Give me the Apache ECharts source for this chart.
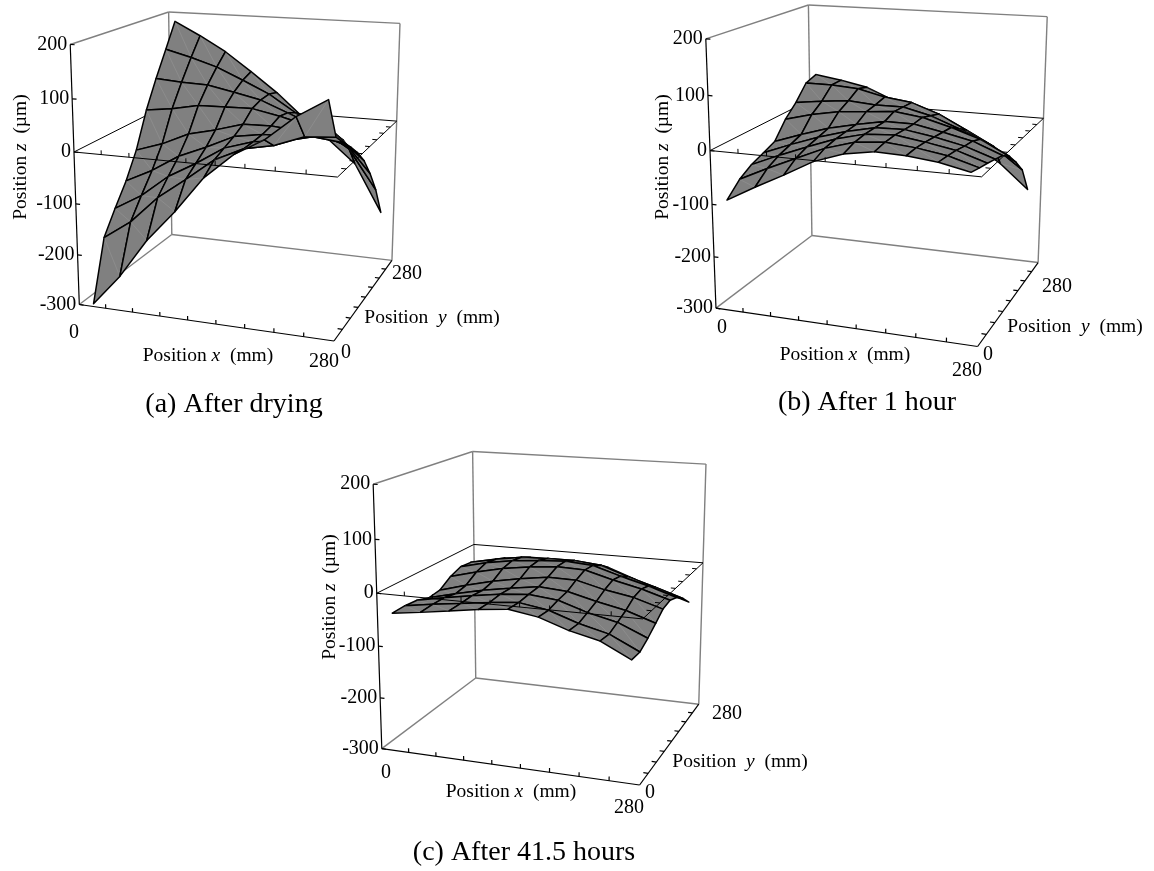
<!DOCTYPE html>
<html><head><meta charset="utf-8">
<style>html,body{margin:0;background:#fff}#c{width:1154px;height:871px}</style>
<script src="https://cdn.jsdelivr.net/npm/echarts@6/dist/echarts.min.js"></script>
</head><body><div id="c"></div>
<script>
// ---------- data ----------
const xNodes = [10,42,74,106,138,170,202,234,266];   // mm
const yNodes = [15,48,80,113,145,178,210,243,275];   // mm
const zTicks = [200,100,0,-100,-200,-300];
const zTickLabels = ['200','100','0','-100','-200','-300'];
const xTickCount = 9, yTickCount = 8, axisMax = 280;
// one row per y node, one column per x node (micrometres)
const zAfterDrying = [
 [-305,-242,-164,-102,-32,16,48,94,128],
 [-188,-150,-96,-55,-12,14,25,46,50],
 [-144,-112,-68,-37,-2,15,21,34,28],
 [-102,-75,-41,-18,8,17,18,25,7],
 [-51,-33,-8,5,21,22,17,15,-16],
 [21,28,39,40,41,30,16,3,-45],
 [77,73,71,60,48,26,3,-20,-84],
 [130,116,99,75,50,15,-17,-52,-132],
 [182,154,123,84,43,-5,-49,-96,-195]];
const zAfterOneHour = [
 [-97,-67,-39,-9,10,19,17,11,-1],
 [-72,-46,-22,2,18,23,18,9,-7],
 [-57,-34,-13,7,21,24,16,6,-12],
 [-47,-26,-7,9,21,22,13,1,-18],
 [-37,-18,-1,11,21,21,10,-2,-24],
 [-4,10,20,24,29,22,7,-11,-39],
 [19,26,31,27,27,14,-7,-30,-63],
 [49,49,45,32,25,6,-22,-51,-92],
 [57,49,38,15,0,-27,-62,-98,-146]];
const zAfter415Hours = [
 [-42,-35,-27,-19,-13,-22,-41,-54,-82],
 [-41,-33,-26,-19,-14,-23,-42,-56,-83],
 [-43,-33,-24,-16,-11,-17,-35,-48,-72],
 [-51,-38,-26,-17,-9,-13,-27,-39,-58],
 [-48,-33,-20,-10,-2,-3,-17,-27,-44],
 [-32,-18,-6,2,7,5,-10,-23,-40],
 [-23,-10,-1,4,7,3,-14,-29,-47],
 [-25,-14,-5,-3,-3,-8,-27,-44,-62],
 [-33,-22,-16,-16,-18,-24,-44,-64,-82]];
const captions = ['(a) After drying','(b) After 1 hour','(c) After 41.5 hours'];

// ---------- view of each panel: where the box corners appear ----------
const views = [
 {z:zAfterDrying, cap:[234,405], zT:[21,157], xT:[208,356], yT:[432,318],
  x0:[74,333], x1:[324,362], y0:[346,353], y1:[407,274],
  c:[[0,0,200,71,44],[0,280,200,168,12],[280,280,200,400,23],[0,0,0,74,152],[280,0,0,337,177],[280,280,0,397,122],[0,280,0,170,104],[0,0,-300,79,305],[0,280,-300,172,234],[280,280,-300,392,260],[280,0,-300,334,341]]},
 {z:zAfterOneHour, cap:[867,403], zT:[663,157], xT:[845,355], yT:[1075,327],
  x0:[722,328], x1:[967,371], y0:[988,355], y1:[1057,287],
  c:[[0,0,200,706,39],[0,280,200,808,5],[280,280,200,1048,17],[0,0,0,710,150],[280,0,0,981,177],[280,280,0,1043,118],[0,280,0,810,100],[0,0,-300,716,308],[0,280,-300,812,236],[280,280,-300,1038,262],[280,0,-300,978,347]]},
 {z:zAfter415Hours, cap:[524,853], zT:[330,597], xT:[511,792], yT:[740,762],
  x0:[386,773], x1:[629,808], y0:[650,793], y1:[727,714],
  c:[[0,0,200,373,484],[0,280,200,473,452],[280,280,200,706,464],[0,0,0,377,593],[280,0,0,643,619],[280,280,0,703,563],[0,280,0,473,544],[0,0,-300,382,749],[0,280,-300,476,678],[280,280,-300,699,704],[280,0,-300,639,785]]}
];

// ---------- perspective fitted through the box corners ----------
function solve(A,b){const n=b.length;A=A.map((r,i)=>r.concat(b[i]));
 for(let c=0;c<n;c++){let p=c;for(let r=c+1;r<n;r++)if(Math.abs(A[r][c])>Math.abs(A[p][c]))p=r;
  [A[c],A[p]]=[A[p],A[c]];
  for(let r=0;r<n;r++){if(r===c)continue;const f=A[r][c]/A[c][c];for(let k=c;k<=n;k++)A[r][k]-=f*A[c][k];}}
 return A.map((r,i)=>r[n]/r[i]);}
function fitCamera(pts){const M=[],B=[];
 pts.forEach(([X,Y,Z,u,v])=>{X/=280;Y/=280;Z/=300;u/=1000;v/=1000;
  M.push([X,Y,Z,1,0,0,0,0,-u*X,-u*Y,-u*Z]);B.push(u);
  M.push([0,0,0,0,X,Y,Z,1,-v*X,-v*Y,-v*Z]);B.push(v);});
 const N=11,A=[],b=[];
 for(let i=0;i<N;i++){A.push([]);b.push(0);for(let j=0;j<N;j++){let s=0;M.forEach(r=>s+=r[i]*r[j]);A[i].push(s);}
  M.forEach((r,k)=>b[i]+=r[i]*B[k]);}
 const p=solve(A,b);
 return (X,Y,Z)=>{X/=280;Y/=280;Z/=300;const w=p[8]*X+p[9]*Y+p[10]*Z+1;
  return [1000*(p[0]*X+p[1]*Y+p[2]*Z+p[3])/w,1000*(p[4]*X+p[5]*Y+p[6]*Z+p[7])/w,w];};}

// ---------- ECharts series ----------
const series=[];
function lineSeries(project,segs,color,width){
 const data=segs.map(([a,b])=>{const p=project(...a),q=project(...b);return [p[0],p[1],q[0],q[1]];});
 series.push({type:'custom',coordinateSystem:'cartesian2d',silent:true,clip:false,animation:false,progressive:0,
  encode:{x:[0,2],y:[1,3]},data,
  renderItem:(params,api)=>{const p=api.coord([api.value(0),api.value(1)]),q=api.coord([api.value(2),api.value(3)]);
   return {type:'line',shape:{x1:p[0],y1:p[1],x2:q[0],y2:q[1]},style:{stroke:color,lineWidth:width,fill:null}};}});
}
function surfaceSeries(project,zz){
 const quads=[];
 for(let j=0;j<8;j++)for(let i=0;i<8;i++){
  const c=[[i,j],[i+1,j],[i+1,j+1],[i,j+1]].map(([a,b])=>project(xNodes[a],yNodes[b],zz[b][a]));
  const d=(c[0][2]+c[1][2]+c[2][2]+c[3][2])/4;
  quads.push({d,v:c.flatMap(p=>[p[0],p[1]])});
 }
 quads.sort((a,b)=>b.d-a.d);
 series.push({type:'custom',coordinateSystem:'cartesian2d',silent:true,clip:false,animation:false,progressive:0,
  encode:{x:[0,2,4,6],y:[1,3,5,7]},data:quads.map(q=>q.v),
  renderItem:(params,api)=>{const pts=[0,2,4,6].map(k=>api.coord([api.value(k),api.value(k+1)]));
   return {type:'group',children:[
    {type:'polygon',shape:{points:pts},style:{fill:'#808080',stroke:'#000',lineWidth:1.5,lineJoin:'round'}},
    {type:'line',shape:{x1:pts[3][0],y1:pts[3][1],x2:pts[1][0],y2:pts[1][1]},style:{stroke:'rgba(255,255,255,0.16)',lineWidth:0.6,fill:null}}
   ]};}});
}
function labelSeries(items){
 series.push({type:'custom',coordinateSystem:'cartesian2d',silent:true,clip:false,animation:false,progressive:0,
  encode:{x:0,y:1},data:items.map(t=>[t[0],t[1]]),
  renderItem:(params,api)=>{const p=api.coord([api.value(0),api.value(1)]),t=items[params.dataIndex];
   return {type:'text',x:p[0],y:p[1],style:{text:t[2],fill:'#000',font:'20px "Liberation Serif"',align:t[3],verticalAlign:'middle'}};}});
}
const graphicEls=[];
function rich(a,b,c){return '{r|'+a+'}{i|'+b+'}{r|'+c+'}';}
const richStyle={r:{font:'19.5px "Liberation Serif"',fill:'#000'},i:{font:'italic 19.5px "Liberation Serif"',fill:'#000'}};

views.forEach((view,n)=>{
 const P=fitCamera(view.c),M=axisMax;
 // grey back walls
 lineSeries(P,[
  [[0,0,200],[0,M,200]],[[0,M,200],[M,M,200]],
  [[0,M,200],[0,M,-300]],[[M,M,200],[M,M,-300]],
  [[0,0,-300],[0,M,-300]],[[0,M,-300],[M,M,-300]]],'#808080',1.4);
 // plane z=0, far edges
 lineSeries(P,[[[0,0,0],[0,M,0]],[[0,M,0],[M,M,0]]],'#000',1);
 // black axes
 const xt=[],yt=[],zt=zTicks.map(z=>[[0,0,z],[5,0,z]]);
 for(let i=1;i<xTickCount;i++){const x=i*M/xTickCount;xt.push([[x,0,-300],[x,0,-292]]);}
 for(let j=1;j<yTickCount;j++){const y=j*M/yTickCount;yt.push([[M,y,-300],[M-5,y,-300]]);}
 lineSeries(P,[[[0,0,200],[0,0,-300]],[[0,0,-300],[M,0,-300]],[[M,0,-300],[M,M,-300]]].concat(xt,yt,zt),'#000',1.2);
 surfaceSeries(P,view.z);
 // plane z=0, near edges on top of the surface
 const xt0=[],yt0=[];
 for(let i=1;i<xTickCount;i++){const x=i*M/xTickCount;xt0.push([[x,0,0],[x,0,8]]);}
 for(let j=1;j<yTickCount;j++){const y=j*M/yTickCount;yt0.push([[M,y,0],[M-5,y,0]]);}
 lineSeries(P,[[[0,0,0],[M,0,0]],[[M,0,0],[M,M,0]]].concat(xt0,yt0),'#000',1);
 // tick labels
 const labels=zTicks.map((z,k)=>{const p=P(0,0,z);return [p[0]-3,p[1],zTickLabels[k],'right'];});
 labels.push([view.x0[0],view.x0[1],'0','center'],[view.x1[0],view.x1[1],String(M),'center'],
             [view.y0[0],view.y0[1],'0','center'],[view.y1[0],view.y1[1],String(M),'center']);
 labelSeries(labels);
 // axis titles and caption
 graphicEls.push(
  {type:'text',x:view.xT[0],y:view.xT[1],style:{text:rich('Position ','x','  (mm)'),rich:richStyle,align:'center',verticalAlign:'middle'}},
  {type:'text',x:view.yT[0],y:view.yT[1],style:{text:rich('Position  ','y','  (mm)'),rich:richStyle,align:'center',verticalAlign:'middle'}},
  {type:'text',x:view.zT[0],y:view.zT[1],rotation:Math.PI/2,style:{text:rich('Position ','z','  (\u00b5m)'),rich:richStyle,align:'center',verticalAlign:'middle'}},
  {type:'text',x:view.cap[0],y:view.cap[1],style:{text:captions[n],fill:'#000',font:'28px "Liberation Serif"',align:'center',verticalAlign:'middle'}}
 );
});

const chart=echarts.init(document.getElementById('c'),null,{renderer:'canvas'});
chart.setOption({
 animation:false,backgroundColor:'#fff',
 grid:{left:0,right:0,top:0,bottom:0},
 xAxis:{type:'value',min:0,max:1154,show:false},
 yAxis:{type:'value',min:0,max:871,inverse:true,show:false},
 series,
 graphic:{elements:graphicEls}
});
</script></body></html>
